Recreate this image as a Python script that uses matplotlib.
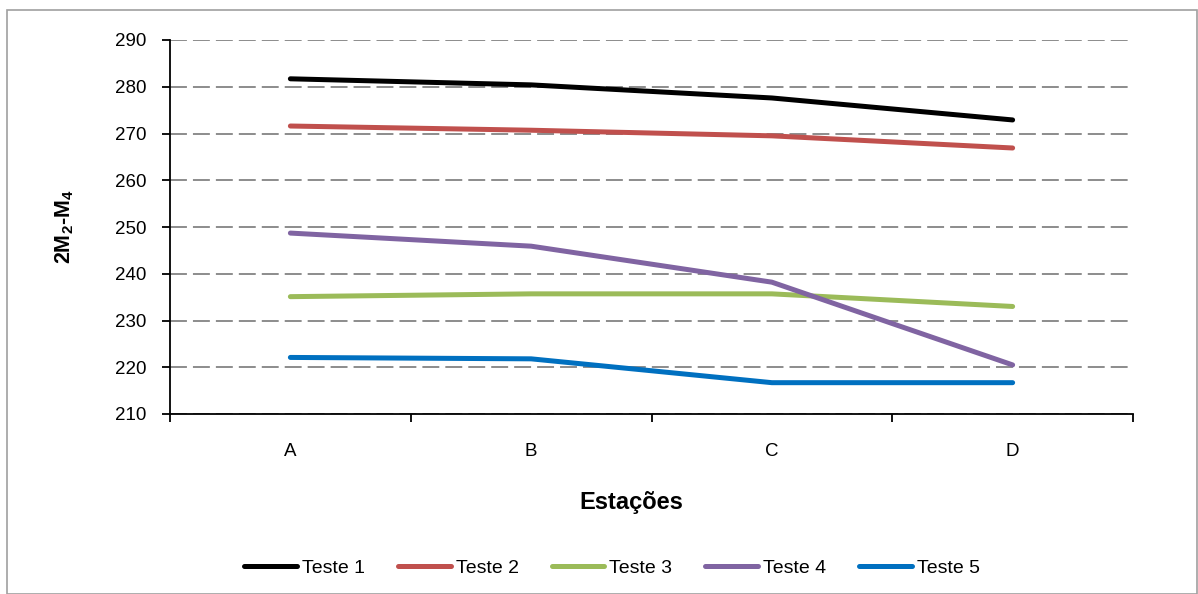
import matplotlib.pyplot as plt
from matplotlib.patches import Rectangle

plt.rcParams['font.family'] = ['Liberation Sans', 'DejaVu Sans']
plt.rcParams['mathtext.fontset'] = 'custom'
plt.rcParams['mathtext.rm'] = 'Liberation Sans'
plt.rcParams['mathtext.bf'] = 'Liberation Sans:bold'

estacoes = ['A', 'B', 'C', 'D']
teste1 = [281.7, 280.4, 277.6, 272.9]
teste2 = [271.6, 270.7, 269.5, 266.9]
teste3 = [235.1, 235.7, 235.7, 233.0]
teste4 = [248.7, 245.9, 238.2, 220.5]
teste5 = [222.1, 221.8, 216.7, 216.7]

series = [teste1, teste2, teste3, teste4, teste5]
nomes = ['Teste 1', 'Teste 2', 'Teste 3', 'Teste 4', 'Teste 5']
cores = ['#000000', '#C0504D', '#9BBB59', '#8064A2', '#0070C0']

fig = plt.figure(figsize=(11.98, 5.94), dpi=100)
fig.patches.append(Rectangle((7 / 1198, 0), 1 - 7 / 1198 - 0.0005, 1 - 10 / 594,
                             transform=fig.transFigure, fill=False,
                             edgecolor='#A0A0A0', linewidth=1.2))
ax = fig.add_axes([170 / 1198, 1 - 414 / 594, 963 / 1198, 374 / 594])

x = range(len(estacoes))
for vals, nome, cor in zip(series, nomes, cores):
    ax.plot(x, vals, color=cor, linewidth=3.6, label=nome, solid_capstyle='round')

ax.set_xlim(-0.5, 3.5)
ax.set_ylim(210, 290)
ax.set_yticks(range(210, 291, 10))
ax.set_xticks(list(x))
ax.set_xticklabels(estacoes)
ax.set_xticks([-0.5, 0.5, 1.5, 2.5, 3.5], minor=True)
ax.tick_params(axis='x', which='major', length=0, pad=21, labelsize=13.5)
ax.tick_params(axis='x', which='minor', length=6, width=1.3, direction='out')
ax.tick_params(axis='y', length=6, width=1.3, direction='out', labelsize=13.5, pad=11)
ax.yaxis.grid(True, linestyle=(0, (8.7, 3.1)), color='#8C8C8C', linewidth=1.4)
ax.set_axisbelow(True)
for s in ['top', 'right']:
    ax.spines[s].set_visible(False)
for s in ['left', 'bottom']:
    ax.spines[s].set_linewidth(1.3)

ax.set_ylabel('2M$_\\mathbf{2}$-M$_\\mathbf{4}$', fontsize=15.5, fontweight='bold')
ax.yaxis.set_label_coords((65 - 170) / 963, 0.5)
ax.set_xlabel('Estações', fontsize=17, fontweight='bold')
ax.xaxis.set_label_coords((631 - 170) / 963, -(503 - 414) / 374)
ax.xaxis.label.set_va('center')
ax.yaxis.label.set_va('center')

fig.legend(loc='center', bbox_to_anchor=(612 / 1198, 1 - 568 / 594), ncol=5, frameon=False,
           fontsize=14, handlelength=2.7, handletextpad=0.26, columnspacing=1.7)

fig.savefig('out.png', dpi=100)
